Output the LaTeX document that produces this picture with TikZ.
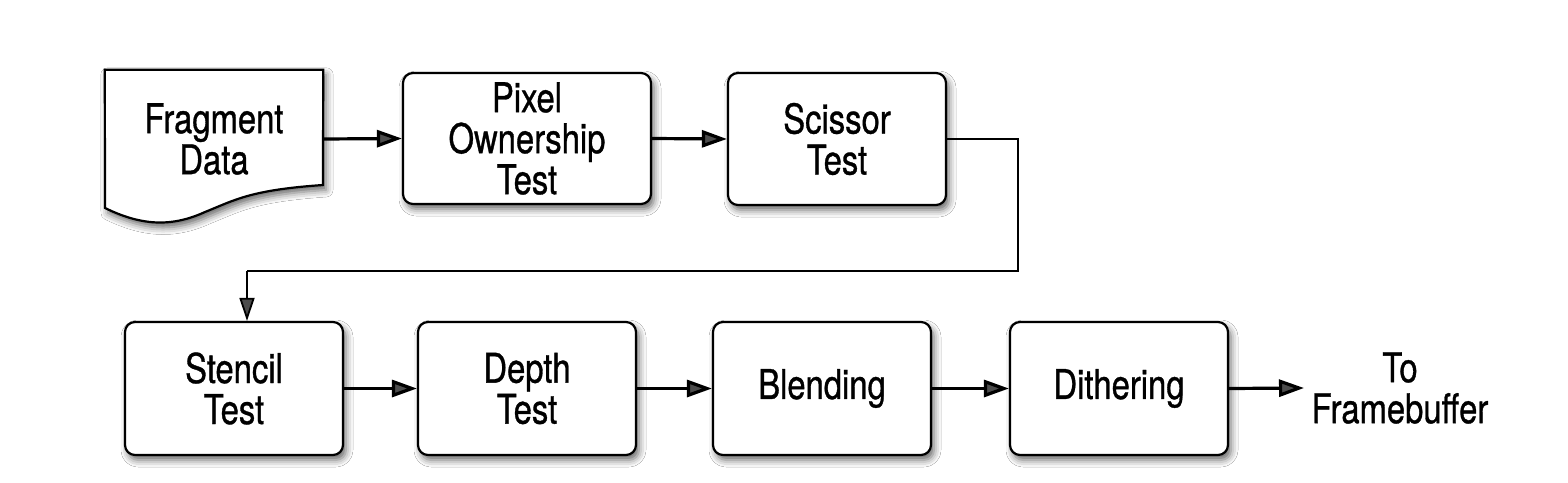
\documentclass[tikz,border=0pt]{standalone}
\usepackage{fontspec}
\setmainfont{TeX Gyre Heros}[FakeStretch=0.8,FakeBold=0.8]
\usetikzlibrary{arrows.meta,shadows.blur}
\begin{document}
\begin{tikzpicture}[x=1pt,y=-1pt,
  shd/.style={blur shadow={shadow xshift=3pt, shadow yshift=-5pt, shadow blur radius=7pt, shadow opacity=60}},
  box/.style={draw=black, line width=2.2pt, rounded corners=10pt, fill=white,
    minimum width=218pt, minimum height=132pt, align=center, inner sep=0pt,
    font=\fontsize{41}{41}\selectfont, shd},
  lbl/.style={align=center, inner sep=0pt, font=\fontsize{41}{41}\selectfont},
  arr/.style={line width=3.2pt, -{Triangle[length=25pt,width=17pt]}},
  thin/.style={line width=1.8pt}]
\useasboundingbox[fill=white] (0,0) rectangle (1568,482);
% document shape
\node[lbl, minimum width=218pt, minimum height=138pt] (frag) at (214,139) {Fragment\\Data};
\path[draw=black, line width=2.2pt, fill=white, shd]
  (frag.north west) -- (frag.north east) -- (323,185)
  .. controls (250,190) and (235,200) .. (205,212)
  .. controls (170,228) and (140,225) .. (105,208) -- cycle;
\node[lbl] at (frag.center) {Fragment\\Data};
\node[box, minimum width=248pt, minimum height=131pt] (pix) at (527,138.5) {Pixel\\Ownership\\Test};
\node[box] (sci) at (837,139) {Scissor\\Test};
\node[box, minimum height=133pt] (sten) at (234,388.5) {Stencil\\Test};
\node[box, minimum height=133pt] (dep) at (527,388.5) {Depth\\Test};
\node[box, minimum height=133pt] (bl) at (822,388.5) {Blending};
\node[box, minimum height=133pt] (dith) at (1119,388.5) {Dithering};
\node[lbl] (fb) at (1400,388) {To\\Framebuffer};
\coordinate (c1) at (1018,271);
\coordinate (c2) at (247,271);
\coordinate (c3) at (1304,388);
\draw[arr] (frag.east) -- (pix.west);
\draw[arr] (pix.east) -- (sci.west);
\draw[thin] (sci.east) -| (c1) -- (c2);
\draw[thin, -{Triangle[length=23pt,width=15pt]}] (c2) -- (c2 |- sten.north);
\draw[arr] (sten.east) -- (dep.west);
\draw[arr] (dep.east) -- (bl.west);
\draw[arr] (bl.east) -- (dith.west);
\draw[arr] (dith.east) -- (c3);
\end{tikzpicture}
\end{document}
